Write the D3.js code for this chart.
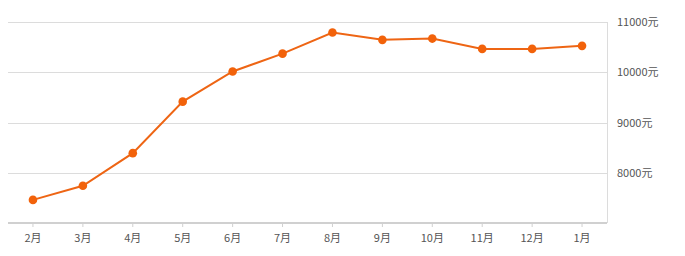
<!DOCTYPE html>
<html>
<head>
<meta charset="utf-8">
<script src="https://cdn.jsdelivr.net/npm/d3@7/dist/d3.min.js"></script>
<style>
  body { margin: 0; background: #fff; }
  svg { display: block; font-family: "Microsoft YaHei", "Noto Sans CJK SC", sans-serif; }
</style>
</head>
<body>
<svg width="685" height="256"></svg>
<script>
const months = ['2月', '3月', '4月', '5月', '6月', '7月', '8月', '9月', '10月', '11月', '12月', '1月'];
const prices = [7460, 7740, 8390, 9415, 10015, 10370, 10790, 10645, 10670, 10465, 10465, 10525];
const yTicks = [8000, 9000, 10000, 11000];

const margens = { left: 8, right: 78, top: 22, bottom: 33 };
const svg = d3.select('svg');
const width = 685 - margens.left - margens.right;
const height = 256 - margens.top - margens.bottom;

const mapX = d3.scaleBand().domain(months).range([0, width]);
const mapY = d3.scaleLinear().domain([7000, 11000]).range([height, 0]);

const g = svg.append('g').attr('transform', `translate(${margens.left}, ${margens.top})`);

// grid
g.selectAll('.grid').data(yTicks).join('line')
  .attr('x1', 0).attr('x2', width)
  .attr('y1', d => Math.round(mapY(d)) + 0.5).attr('y2', d => Math.round(mapY(d)) + 0.5)
  .attr('stroke', '#dcdcdc');

// right border
g.append('line')
  .attr('x1', width + 0.5).attr('x2', width + 0.5)
  .attr('y1', mapY(11000)).attr('y2', height)
  .attr('stroke', '#dcdcdc');

// y labels
g.selectAll('.ylab').data(yTicks).join('text')
  .attr('x', width + 10).attr('y', d => mapY(d) + 4)
  .attr('fill', '#555').style('font-size', '11px')
  .text(d => d + '元');

// x axis
const xAxis = g.append('g').attr('transform', `translate(0, ${height})`)
  .call(d3.axisBottom(mapX).tickSize(4).tickPadding(7));
xAxis.select('.domain').attr('stroke', '#d0d0d0').attr('stroke-width', 2).attr('d', `M0,0H${width}`);
xAxis.selectAll('.tick line').attr('stroke', '#d0d0d0');
xAxis.selectAll('.tick text').attr('fill', '#555').style('font-size', '11px')
  .style('font-family', '"Microsoft YaHei", "Noto Sans CJK SC", sans-serif');

// line
const cx = d => mapX(d) + mapX.bandwidth() / 2;
const line = d3.line().x((d, i) => cx(months[i])).y(d => mapY(d));
g.append('path').datum(prices)
  .attr('d', line).attr('fill', 'none')
  .attr('stroke', '#ee6514').attr('stroke-width', 2);

g.selectAll('circle').data(prices).join('circle')
  .attr('cx', (d, i) => cx(months[i])).attr('cy', d => mapY(d))
  .attr('r', 4.3).attr('fill', '#f2620a');
</script>
</body>
</html>
